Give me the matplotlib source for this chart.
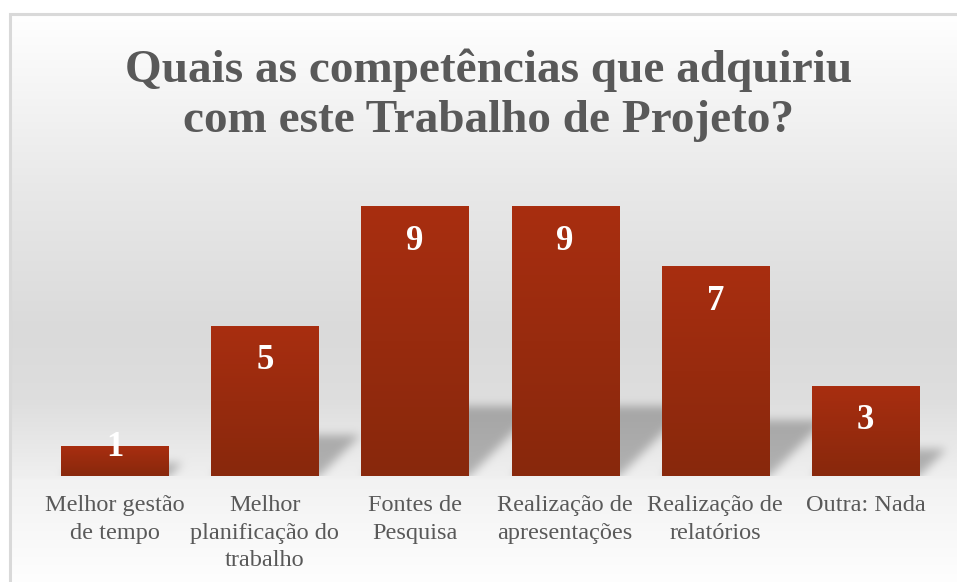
import numpy as np
import matplotlib
matplotlib.use("Agg")
from matplotlib import pyplot as plt

# data
categories = ["Melhor gestão\nde tempo", "Melhor\nplanificação do\ntrabalho",
              "Fontes de\nPesquisa", "Realização de\napresentações",
              "Realização de\nrelatórios", "Outra: Nada"]
values = [1, 5, 9, 9, 7, 3]
title_lines = ["Quais as competências que adquiriu", "com este Trabalho de Projeto?"]

W, H = 957, 582
plt.rcParams["font.family"] = ["Liberation Serif", "DejaVu Serif"]

fig = plt.figure(figsize=(W / 100, H / 100), dpi=100)
fig.patch.set_facecolor("white")

# background axes in pixel space (rows from the top)
bg_ax = fig.add_axes([0, 0, 1, 1], zorder=0)
bg_ax.set_axis_off()

ax = fig.add_axes([39.5 / W, (H - 476) / H, 901 / W, 299 / H], zorder=1)
ax.patch.set_visible(False)
x = np.arange(len(values))
bars = ax.bar(x, values, width=0.713, color="none", edgecolor="none", zorder=2)
ax.set_xlim(-0.5, len(values) - 0.5)
ax.set_ylim(0, 10)

# bar gradient fill
top_c = np.array([0xa8, 0x2e, 0x10]) / 255
bot_c = np.array([0x88, 0x28, 0x0c]) / 255
t = np.linspace(0, 1, 64)[:, None, None]
grad = top_c * (1 - t) + bot_c * t
for b in bars:
    ax.imshow(grad, extent=(b.get_x(), b.get_x() + b.get_width(), 0, b.get_height()),
              aspect="auto", origin="upper", zorder=2, interpolation="bilinear")
ax.set_xlim(-0.5, len(values) - 0.5)
ax.set_ylim(0, 10)

# background gradient
rows = np.arange(H)
stops_y = [0, 14, 190, 330, 400, 470, 476, 480, 582]
stops_v = [255, 255, 232, 218, 222, 238, 239, 242, 254]
col = np.interp(rows, stops_y, stops_v) / 255
img = np.repeat(col[:, None], W, axis=1)

# perspective shadow behind each bar
shadow = np.zeros((H, W))
yy, xx = np.mgrid[0:H, 0:W]
for b in bars:
    bb = b.get_window_extent()
    h = bb.y1 - bb.y0
    hs = 0.24 * h + 6
    d = (H - yy) - bb.y0  # height above the bar base
    mask = (d >= 0) & (d <= hs) & (xx >= bb.x0 + d) & (xx <= bb.x1 + d)
    shadow[mask] = 1.0


def box_blur(a, r):
    k = np.ones(2 * r + 1) / (2 * r + 1)
    a = np.apply_along_axis(lambda m: np.convolve(m, k, mode="same"), 0, a)
    a = np.apply_along_axis(lambda m: np.convolve(m, k, mode="same"), 1, a)
    return a


for _ in range(3):
    shadow = box_blur(shadow, 4)
base_row = int(round(H - bars[0].get_window_extent().y0))
shadow[base_row:, :] = 0
img = img * (1 - 0.26 * shadow)

rgb = np.dstack([img, img, img])
# white outside the chart border
rgb[:14, :, :] = 1.0
rgb[:, :9, :] = 1.0
bg_ax.imshow(rgb, extent=(0, W, H, 0), aspect="auto", interpolation="nearest")
bg_ax.set_xlim(0, W)
bg_ax.set_ylim(H, 0)
bg_ax.plot([9.5, 9.5, W], [H, 13.5, 13.5], color="#d9d9d9", lw=2.2,
           solid_joinstyle="miter")

# axes styling
for s in ax.spines.values():
    s.set_visible(False)
ax.set_yticks([])
ax.set_xticks(x)
ax.set_xticklabels(categories, fontsize=17.5, color="#595959", linespacing=1.38)
ax.tick_params(axis="x", length=0, pad=14)

# value labels inside the bars
for i, v in enumerate(values):
    y = v - 1.15 if v > 2 else v - 0.05
    ax.text(i, y, str(v), ha="center", va="center", color="white",
            fontsize=25, fontweight="bold", zorder=3)

# title
fig.text(489 / W, 1 - 82 / H, title_lines[0], ha="center", va="baseline",
         fontsize=34, fontweight="bold", color="#595959")
fig.text(489 / W, 1 - 132 / H, title_lines[1], ha="center", va="baseline",
         fontsize=34, fontweight="bold", color="#595959")

fig.savefig("out.png", dpi=100)
